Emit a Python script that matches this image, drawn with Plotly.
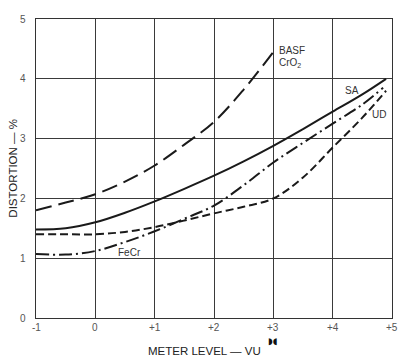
import plotly.graph_objects as go

# Data (x = meter level in VU, y = distortion %)
basf_x = [-1, -0.5, 0, 0.5, 1, 1.5, 2, 2.5, 3]
basf_y = [1.8, 1.93, 2.07, 2.28, 2.55, 2.9, 3.28, 3.82, 4.45]

sa_x = [-1, -0.5, 0, 0.5, 1, 1.5, 2, 2.5, 3, 3.5, 4, 4.5, 4.9]
sa_y = [1.48, 1.5, 1.6, 1.76, 1.95, 2.16, 2.38, 2.62, 2.88, 3.16, 3.45, 3.74, 4.0]

ud_x = [-1, -0.5, 0, 0.5, 1, 1.5, 2, 2.5, 3, 3.5, 4, 4.5, 4.9]
ud_y = [1.4, 1.4, 1.4, 1.44, 1.52, 1.63, 1.75, 1.86, 2.0, 2.35, 2.85, 3.35, 3.8]

fecr_x = [-1, -0.5, 0, 0.5, 1, 1.5, 2, 2.5, 3, 3.5, 4, 4.5, 4.85]
fecr_y = [1.07, 1.06, 1.12, 1.27, 1.45, 1.66, 1.88, 2.22, 2.6, 2.93, 3.25, 3.57, 3.85]

x_ticks = [-1, 0, 1, 2, 3, 4, 5]
x_tick_labels = ["-1", "0", "+1", "+2", "+3", "+4", "+5"]
y_ticks = [0, 1, 2, 3, 4, 5]
y_tick_labels = ["0", "1", "2", "3", "4", "5"]

ink = "#1a1a1a"
FONT = "Liberation Sans"

fig = go.Figure()
fig.add_trace(go.Scatter(x=basf_x, y=basf_y, mode="lines", line=dict(color=ink, width=2, dash="16px,7px", shape="spline"), showlegend=False))
fig.add_trace(go.Scatter(x=sa_x, y=sa_y, mode="lines", line=dict(color=ink, width=2, shape="spline"), showlegend=False))
fig.add_trace(go.Scatter(x=ud_x, y=ud_y, mode="lines", line=dict(color=ink, width=2, dash="8px,4px", shape="spline"), showlegend=False))
fig.add_trace(go.Scatter(x=fecr_x, y=fecr_y, mode="lines", line=dict(color=ink, width=2, dash="13px,4px,2px,4px", shape="spline"), showlegend=False))

ann = dict(showarrow=False, font=dict(family=FONT, size=10, color="#333"), xanchor="left", yanchor="middle")
fig.add_annotation(x=3.06, y=4.48, text="BASF", **ann)
fig.add_annotation(x=3.06, y=4.26, text="CrO<sub>2</sub>", **ann)
fig.add_annotation(x=4.18, y=3.8, text="SA", **ann)
fig.add_annotation(x=4.63, y=3.4, text="UD", **ann)
fig.add_annotation(x=0.35, y=1.1, text="FeCr", **ann)

# tick labels
tick_font = dict(family=FONT, size=10, color="#555")
for v, t in zip(x_ticks, x_tick_labels):
    fig.add_annotation(x=v, xref="x", y=-0.032, yref="paper", text=t, showarrow=False,
                       font=tick_font, xanchor="center", yanchor="middle")
for v, t in zip(y_ticks, y_tick_labels):
    fig.add_annotation(x=-0.022, xref="paper", y=v, yref="y", text=t, showarrow=False,
                       font=tick_font, xanchor="right", yanchor="middle")

fig.add_annotation(xref="paper", yref="paper", x=0.472, y=-0.112, text="METER LEVEL — VU",
                   showarrow=False, font=dict(family=FONT, size=11.5, color="#222"), xanchor="center", yanchor="middle")
fig.add_annotation(xref="paper", yref="paper", x=0.664, y=-0.078, text="<b>◗◖</b>",
                   showarrow=False, font=dict(family="DejaVu Sans", size=9, color="#111"), xanchor="center", yanchor="middle")
fig.add_annotation(xref="paper", yref="paper", x=-0.067, y=0.5, text="DISTORTION — %", textangle=-90,
                   showarrow=False, font=dict(family=FONT, size=11.5, color="#222"), xanchor="center", yanchor="middle")

fig.update_xaxes(range=[-1, 5], tickvals=x_ticks, showticklabels=False,
                 showgrid=True, gridcolor="#3a3a3a", gridwidth=1, zeroline=False,
                 showline=True, linecolor="#333", linewidth=1, mirror=True, ticks="")
fig.update_yaxes(range=[0, 5], tickvals=y_ticks, showticklabels=False,
                 showgrid=True, gridcolor="#3a3a3a", gridwidth=1, zeroline=False,
                 showline=True, linecolor="#333", linewidth=1, mirror=True, ticks="")

fig.update_layout(width=403, height=362, margin=dict(l=36, r=11, t=19, b=44),
                  paper_bgcolor="white", plot_bgcolor="white")

fig.write_html("out.html", config={"displayModeBar": False},
               post_script="document.body.style.margin='0';document.body.style.overflow='hidden';")
